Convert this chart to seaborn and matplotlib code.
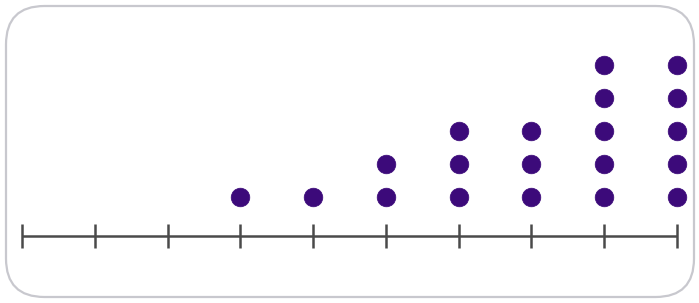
import numpy as np
import pandas as pd
import matplotlib
matplotlib.use("Agg")
import matplotlib.pyplot as plt
from matplotlib.patches import FancyBboxPatch
import seaborn as sns

positions = [1, 2, 3, 4, 5, 6, 7, 8, 9, 10]
counts = [0, 0, 0, 1, 1, 2, 3, 3, 5, 5]

xs, ys = [], []
for p, c in zip(positions, counts):
    for k in range(1, c + 1):
        xs.append(p)
        ys.append(k)
df = pd.DataFrame({"value": xs, "stack": ys})

sns.set_style("white")
fig = plt.figure(figsize=(6.99, 3.03), dpi=100)
ax = fig.add_axes([0, 0, 1, 1])

# rounded frame
frame = FancyBboxPatch((6 / 699, 6 / 303), 688 / 699, 291 / 303,
                       boxstyle="round,pad=0,rounding_size=0.055",
                       transform=fig.transFigure, facecolor="none",
                       edgecolor="#c8c8ce", linewidth=1.6, zorder=0,
                       mutation_aspect=699 / 303)
fig.patches.append(frame)
ax.set_facecolor("none")

scale = (677 - 22) / 9.0
ax.set_xlim(1 - 22 / scale, 10 + 22 / scale)
ax.set_ylim(1 - (303 - 197) / 33.0, 1 + 197 / 33.0)

axis_y = 1 - 39 / 33.0
ax.plot([positions[0], positions[-1]], [axis_y, axis_y], color="#4a4a4a", lw=1.8, solid_capstyle="butt")
ax.vlines(positions, axis_y - 12 / 33.0, axis_y + 12 / 33.0, color="#4a4a4a", lw=1.8)

sns.scatterplot(data=df, x="value", y="stack", ax=ax, s=180, color="#3c0a7a",
                edgecolor="#3c0a7a", linewidth=0.5, legend=False, zorder=3)

ax.set_axis_off()
fig.savefig("out.png", dpi=100)
